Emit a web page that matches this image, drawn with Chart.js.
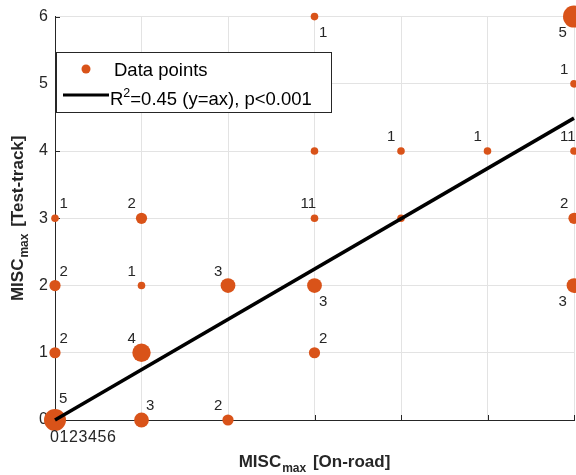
<!DOCTYPE html>
<html>
<head>
<meta charset="utf-8">
<script src="https://cdn.jsdelivr.net/npm/chart.js@4.4.1/dist/chart.umd.min.js"></script>
<style>
  html, body { margin: 0; padding: 0; background: #fff; }
  #wrap { width: 576px; height: 475px; position: relative; }
</style>
</head>
<body>
<div id="wrap"><canvas id="chart"></canvas></div>
<script>
// MISC on-road vs test-track, one point per (x, y) pair, sized by count
const onRoad    = [0, 1, 2, 0, 1, 3, 0, 1, 2, 3, 6, 0, 1, 3, 4, 6, 3, 4, 5, 6, 6, 3, 6]
const testTrack = [0, 0, 0, 1, 1, 1, 2, 2, 2, 2, 2, 3, 3, 3, 3, 3, 4, 4, 4, 4, 5, 6, 6]
const counts    = [5, 3, 2, 2, 4, 2, 2, 1, 3, 3, 3, 1, 2, 1, 1, 2, 1, 1, 1, 1, 1, 1, 5]
const countText = ['5', '3', '2', '2', '4', '2', '2', '1', '3', '3', '3', '1', '2', '11', '', '2', '', '1', '1', '11', '1', '1', '5']

// fitted line y = a*x
const fitX = [0, 6]
const fitY = [0, 4.49]

const xTickLabels = ['0', '1', '2', '3', '4', '5', '6']
const yTickLabels = ['0', '1', '2', '3', '4', '5', '6']

const legendLabels = ['Data points', '=0.45 (y=ax), p<0.001']

// where each count label sits relative to its point
const labelPlace = ['ur2', 'ur', 'ul', 'ur', 'ul', 'ur', 'ur', 'ul', 'ul', 'dr', 'dl', 'ur', 'ul', 'ul', 'ul', 'ul', 'ul', 'ul', 'ul', 'ul', 'ul', 'dr', 'dl']
const placeOffsets = {
  ur: [4.5, -14], ur2: [4, -21], ul: [-14, -14], dr: [4.5, 16], dl: [-15.5, 16]
}

const ORANGE = 'rgb(217, 83, 25)'
const DARK = '#262626'
const FONT = '"Liberation Sans", Arial, Helvetica, sans-serif'

function drawAxisTitle(ctx, cx, cy, rotate, bracket) {
  ctx.save()
  ctx.translate(cx, cy)
  if (rotate) ctx.rotate(-Math.PI / 2)
  ctx.fillStyle = DARK
  ctx.textBaseline = 'alphabetic'
  ctx.textAlign = 'left'
  const big = 'bold 17px ' + FONT
  const small = 'bold 12px ' + FONT
  ctx.font = big
  const w1 = ctx.measureText('MISC').width
  const w3 = ctx.measureText(bracket).width
  ctx.font = small
  const w2 = ctx.measureText('max').width + 3
  let x = -(w1 + w2 + w3) / 2
  ctx.font = big
  ctx.fillText('MISC', x, 0)
  x += w1 + 1
  ctx.font = small
  ctx.fillText('max', x, 5)
  x += w2 - 1
  ctx.font = big
  ctx.fillText(bracket, x, 0)
  ctx.restore()
}

const decorPlugin = {
  id: 'decor',
  beforeDatasetsDraw(chart) {
    const { ctx, chartArea, scales } = chart
    const xs = scales.x
    const ys = scales.y
    // inward tick marks, under the points
    ctx.save()
    ctx.strokeStyle = DARK
    ctx.lineWidth = 1
    ctx.beginPath()
    yTickLabels.forEach(t => {
      const py = Math.round(ys.getPixelForValue(Number(t))) + 0.5
      ctx.moveTo(chartArea.left, py)
      ctx.lineTo(chartArea.left + 5, py)
    })
    xTickLabels.forEach(t => {
      const px = Math.round(xs.getPixelForValue(Number(t))) + 0.5
      ctx.moveTo(px, chartArea.bottom)
      ctx.lineTo(px, chartArea.bottom - 5)
    })
    ctx.stroke()
    ctx.restore()
  },
  afterDatasetsDraw(chart) {
    const { ctx, chartArea, scales } = chart
    const xs = scales.x
    const ys = scales.y
    ctx.save()

    // x tick labels, squeezed together next to the origin
    ctx.fillStyle = DARK
    ctx.font = '16px ' + FONT
    ctx.textAlign = 'left'
    ctx.textBaseline = 'middle'
    if ('letterSpacing' in ctx) ctx.letterSpacing = '0.6px'
    ctx.fillText(xTickLabels.join(''), xs.getPixelForValue(0) - 5, chartArea.bottom + 18)
    if ('letterSpacing' in ctx) ctx.letterSpacing = '0px'

    // count labels
    ctx.font = '15px ' + FONT
    countText.forEach((txt, i) => {
      if (!txt) return
      const off = placeOffsets[labelPlace[i]]
      const px = xs.getPixelForValue(onRoad[i]) + off[0]
      const py = ys.getPixelForValue(testTrack[i]) + off[1]
      ctx.fillText(txt, px, py)
    })

    // axis titles
    drawAxisTitle(ctx, (chartArea.left + chartArea.right) / 2, 467, false, ' [On-road]')
    drawAxisTitle(ctx, 23, (chartArea.top + chartArea.bottom) / 2, true, ' [Test-track]')

    // legend box
    const lx = 56.5, ly = 52.5, lw = 275, lh = 60
    ctx.fillStyle = '#fff'
    ctx.fillRect(lx, ly, lw, lh)
    ctx.strokeStyle = DARK
    ctx.lineWidth = 1
    ctx.strokeRect(lx, ly, lw, lh)

    ctx.fillStyle = ORANGE
    ctx.beginPath()
    ctx.arc(86, 69, 4.5, 0, Math.PI * 2)
    ctx.fill()

    ctx.strokeStyle = '#000'
    ctx.lineWidth = 3
    ctx.beginPath()
    ctx.moveTo(63, 95)
    ctx.lineTo(109, 95)
    ctx.stroke()

    ctx.fillStyle = '#000'
    ctx.textBaseline = 'alphabetic'
    ctx.font = '18.5px ' + FONT
    ctx.fillText(legendLabels[0], 114, 75.5)
    ctx.fillText('R', 110, 105)
    let rx = 110 + ctx.measureText('R').width
    ctx.font = '12.5px ' + FONT
    ctx.fillText('2', rx, 97)
    rx += ctx.measureText('2').width
    ctx.font = '18.5px ' + FONT
    ctx.fillText(legendLabels[1], rx, 105)

    ctx.restore()
  }
}

const scatterPoints = onRoad.map((x, i) => ({ x: x, y: testTrack[i] }))
const fitPoints = fitX.map((x, i) => ({ x: x, y: fitY[i] }))

new Chart(document.getElementById('chart').getContext('2d'), {
  type: 'scatter',
  data: {
    datasets: [{
      type: 'line',
      label: 'fit',
      data: fitPoints,
      borderColor: '#000',
      borderWidth: 3.5,
      pointRadius: 0,
      fill: false,
      clip: false,
      order: 0
    }, {
      label: legendLabels[0],
      data: scatterPoints,
      backgroundColor: ORANGE,
      borderWidth: 0,
      pointRadius: ctx => 2 + 1.8 * counts[ctx.dataIndex],
      clip: false,
      order: 1
    }]
  },
  options: {
    responsive: true,
    maintainAspectRatio: false,
    animation: false,
    events: [],
    layout: {
      autoPadding: false,
      padding: { top: 15, right: 2, left: 0, bottom: 0 }
    },
    plugins: {
      legend: { display: false },
      tooltip: { enabled: false }
    },
    scales: {
      x: {
        type: 'linear',
        min: 0,
        max: 6,
        ticks: { display: false, stepSize: 1 },
        grid: { color: '#e3e3e3', drawTicks: false },
        border: { color: DARK, width: 1 },
        afterFit: scale => { scale.height = 55 }
      },
      y: {
        type: 'linear',
        min: 0,
        max: 6,
        ticks: {
          stepSize: 1,
          padding: 7,
          color: DARK,
          font: { family: FONT, size: 16 },
          callback: (v, i) => yTickLabels[i]
        },
        grid: { color: '#e3e3e3', drawTicks: false },
        border: { color: DARK, width: 1 },
        afterFit: scale => { scale.width = 55 }
      }
    }
  },
  plugins: [decorPlugin]
})
</script>
</body>
</html>
